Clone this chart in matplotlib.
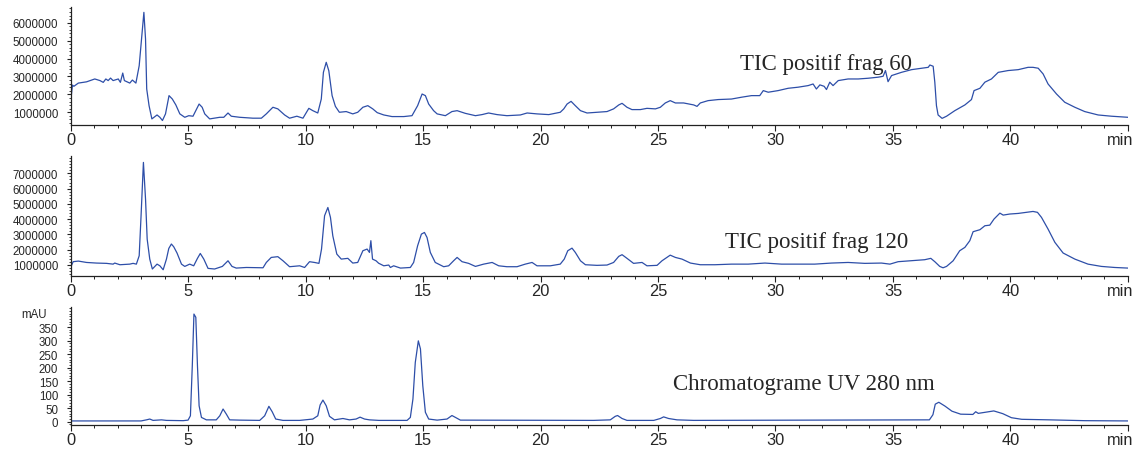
import matplotlib
matplotlib.use('Agg')
import matplotlib.pyplot as plt
import matplotlib.transforms as mtransforms
from matplotlib.ticker import MultipleLocator, FuncFormatter

plt.rcParams['font.family'] = ['Liberation Sans', 'DejaVu Sans']

# TIC positif frag 60 (time in min, intensity in millions of counts)
tic60_time = [0.0, 0.08, 0.14, 0.33, 0.68, 1.03, 1.25, 1.39, 1.50, 1.60, 1.70, 1.81, 2.03, 2.12, 2.22,
              2.29, 2.52, 2.63, 2.78, 2.92, 3.02, 3.12, 3.19, 3.24, 3.34, 3.46, 3.68, 3.80, 3.91, 4.04,
              4.19, 4.33, 4.48, 4.65, 4.86, 5.03, 5.21, 5.47, 5.60, 5.71, 5.92, 6.35, 6.52, 6.70, 6.84,
              7.20, 7.76, 8.12, 8.33, 8.61, 8.82, 9.11, 9.32, 9.63, 9.89, 10.14, 10.31, 10.52, 10.67,
              10.76, 10.88, 10.99, 11.13, 11.27, 11.44, 11.73, 12.01, 12.22, 12.44, 12.65, 12.86, 13.05,
              13.33, 13.68, 14.18, 14.53, 14.77, 14.96, 15.10, 15.24, 15.45, 15.60, 15.95, 16.23, 16.45,
              16.80, 17.23, 17.51, 17.79, 18.15, 18.57, 19.14, 19.43, 19.85, 20.35, 20.84, 20.99, 21.13,
              21.30, 21.48, 21.70, 21.98, 22.40, 22.83, 23.11, 23.33, 23.47, 23.68, 23.89, 24.25, 24.53,
              24.89, 25.10, 25.31, 25.52, 25.74, 26.09, 26.52, 26.66, 26.80, 27.13, 27.56, 28.13, 28.55,
              28.98, 29.33, 29.48, 29.69, 30.11, 30.54, 30.96, 31.39, 31.60, 31.74, 31.89, 32.07, 32.17,
              32.31, 32.45, 32.67, 33.09, 33.52, 33.94, 34.37, 34.58, 34.68, 34.79, 34.94, 35.36, 35.79,
              36.21, 36.50, 36.57, 36.71, 36.78, 36.85, 36.92, 37.09, 37.28, 37.63, 38.06, 38.34, 38.45,
              38.70, 38.91, 39.19, 39.48, 39.90, 40.33, 40.75, 40.96, 41.18, 41.39, 41.60, 41.96, 42.31,
              42.74, 43.16, 43.73, 44.30, 45.00]
tic60_mcounts = [1.56, 2.52, 2.45, 2.63, 2.70, 2.86, 2.77, 2.67, 2.86, 2.77, 2.91, 2.77, 2.86, 2.67, 3.19,
                 2.77, 2.63, 2.80, 2.63, 3.60, 5.09, 6.58, 5.09, 2.30, 1.37, 0.63, 0.85, 0.72, 0.54, 0.91,
                 1.93, 1.74, 1.41, 0.91, 0.72, 0.81, 0.78, 1.46, 1.28, 0.91, 0.63, 0.72, 0.72, 0.96, 0.78,
                 0.72, 0.67, 0.67, 0.91, 1.28, 1.19, 0.85, 0.67, 0.78, 0.67, 1.22, 1.09, 0.96, 1.74,
                 3.23, 3.79, 3.32, 1.93, 1.33, 1.00, 1.04, 0.91, 1.00, 1.28, 1.37, 1.19, 0.98,
                 0.85, 0.76, 0.76, 0.81, 1.37, 2.02, 1.93, 1.46, 1.09, 0.91, 0.81, 1.04, 1.09,
                 0.94, 0.81, 0.87, 0.96, 0.87, 0.81, 0.85, 0.96, 0.91, 0.87, 1.00, 1.19, 1.46,
                 1.61, 1.37, 1.09, 0.96, 1.00, 1.04, 1.19, 1.41, 1.50, 1.28, 1.15, 1.15, 1.22,
                 1.19, 1.28, 1.52, 1.65, 1.52, 1.52, 1.41, 1.33, 1.52, 1.65, 1.71, 1.74, 1.84,
                 1.93, 1.93, 2.21, 2.12, 2.21, 2.34, 2.40, 2.49, 2.58, 2.30, 2.53, 2.45, 2.27,
                 2.68, 2.49, 2.77, 2.86, 2.86, 2.90, 2.96, 3.01, 3.33, 2.71, 3.05, 3.23, 3.38,
                 3.46, 3.51, 3.64, 3.57, 2.68, 1.37, 0.85, 0.66, 0.78, 1.09, 1.41, 1.71, 2.21,
                 2.34, 2.68, 2.86, 3.23, 3.33, 3.38, 3.51, 3.51, 3.46, 3.14, 2.58, 2.02, 1.56,
                 1.28, 1.04, 0.85, 0.78, 0.72]

# TIC positif frag 120
tic120_time = [0.0, 0.11, 0.33, 0.68, 1.10, 1.53, 1.81, 1.88, 2.10, 2.52, 2.66, 2.80, 2.92, 3.00, 3.10,
               3.19, 3.26, 3.37, 3.48, 3.68, 3.80, 3.94, 4.08, 4.18, 4.29, 4.39, 4.53, 4.72, 4.86, 5.07,
               5.24, 5.40, 5.52, 5.67, 5.85, 6.13, 6.46, 6.70, 6.87, 7.05, 7.48, 8.19, 8.33, 8.54, 8.82,
               9.04, 9.32, 9.75, 9.96, 10.17, 10.38, 10.57, 10.68, 10.81, 10.95, 11.06, 11.16, 11.33,
               11.52, 11.80, 12.01, 12.22, 12.44, 12.62, 12.72, 12.78, 12.85, 13.00, 13.11, 13.33, 13.54,
               13.61, 13.75, 14.04, 14.46, 14.60, 14.77, 14.93, 15.06, 15.17, 15.31, 15.52, 15.88, 16.09,
               16.30, 16.45, 16.66, 16.94, 17.23, 17.58, 17.94, 18.22, 18.57, 19.00, 19.35, 19.64, 19.85,
               20.42, 20.84, 21.01, 21.16, 21.34, 21.48, 21.70, 21.91, 22.40, 22.83, 23.11, 23.33, 23.47,
               23.68, 23.96, 24.32, 24.53, 24.96, 25.17, 25.38, 25.52, 25.74, 26.02, 26.38, 26.80, 27.42,
               28.13, 28.84, 29.55, 30.26, 30.96, 31.67, 32.38, 33.09, 33.80, 34.51, 34.87, 35.22, 35.93,
               36.35, 36.61, 36.78, 36.99, 37.13, 37.28, 37.56, 37.84, 38.06, 38.27, 38.41, 38.70, 38.91,
               39.12, 39.30, 39.55, 39.69, 39.97, 40.33, 40.68, 40.96, 41.15, 41.32, 41.60, 41.89, 42.24,
               42.74, 43.30, 43.87, 44.44, 45.00]
tic120_mcounts = [0.82, 1.20, 1.24, 1.15, 1.11, 1.09, 1.04, 1.11, 1.00, 1.04, 1.09, 1.04, 1.59, 4.22, 7.72,
                  5.31, 2.68, 1.37, 0.72, 1.04, 0.93, 0.67, 1.37, 2.07, 2.36, 2.18, 1.77, 1.04, 0.89, 1.04,
                  0.93, 1.42, 1.74, 1.37, 0.76, 0.72, 0.89, 1.26, 0.89, 0.78, 0.82, 0.80, 1.15, 1.48, 1.53,
                  1.26, 0.87, 0.93, 0.82, 1.20, 1.15, 1.09, 2.03, 4.22, 4.76, 4.11, 2.90, 1.70,
                  1.37, 1.42, 1.11, 1.15, 1.92, 2.03, 1.81, 2.58, 1.37, 1.26, 1.10, 0.93, 0.98,
                  0.82, 0.93, 0.78, 0.82, 1.15, 2.25, 3.01, 3.12, 2.79, 1.81, 1.15, 0.87, 0.93,
                  1.26, 1.48, 1.20, 1.09, 0.89, 1.04, 1.15, 0.93, 0.87, 0.87, 1.04, 1.15, 0.93,
                  0.93, 1.04, 1.37, 1.92, 2.09, 1.81, 1.26, 1.00, 0.96, 0.98, 1.15, 1.55, 1.66,
                  1.42, 1.09, 1.15, 0.93, 0.96, 1.26, 1.48, 1.63, 1.48, 1.37, 1.11, 1.00, 1.00,
                  1.04, 1.04, 1.11, 1.04, 1.04, 1.04, 1.11, 1.15, 1.09, 1.11, 1.04, 1.20, 1.28,
                  1.33, 1.42, 1.20, 0.89, 0.80, 0.89, 1.26, 1.92, 2.14, 2.58, 3.17, 3.30, 3.56,
                  3.60, 4.00, 4.39, 4.26, 4.33, 4.37, 4.44, 4.50, 4.44, 4.11, 3.34, 2.47, 1.77,
                  1.37, 1.04, 0.89, 0.82, 0.78]

# UV 280 nm (mAU)
uv_time = [0.0, 3.00, 3.23, 3.37, 3.51, 3.87, 4.08, 4.79, 5.00, 5.10, 5.18, 5.25, 5.33, 5.40, 5.47, 5.57,
           5.78, 6.20, 6.35, 6.49, 6.63, 6.77, 7.20, 8.05, 8.26, 8.44, 8.58, 8.73, 9.04, 9.75, 10.31,
           10.52, 10.62, 10.74, 10.88, 11.02, 11.23, 11.59, 11.87, 12.15, 12.32, 12.51, 12.72, 13.12,
           14.32, 14.46, 14.57, 14.67, 14.80, 14.89, 14.99, 15.10, 15.24, 15.60, 16.02, 16.23, 16.38,
           16.59, 22.26, 22.97, 23.18, 23.28, 23.47, 23.68, 24.82, 25.10, 25.24, 25.45, 25.81, 26.52,
           36.55, 36.70, 36.80, 36.95, 37.21, 37.51, 37.88, 38.40, 38.52, 38.63, 39.00, 39.29, 39.67,
           40.04, 40.48, 41.67, 43.16, 45.00]
uv_mau = [3, 3, 7, 10, 5, 7, 5, 4, 6, 22, 207, 398, 386, 207, 59, 16,
          7, 7, 22, 47, 28, 7, 6, 5, 22, 57, 37, 10, 5, 5, 10,
          22, 62, 80, 59, 20, 7, 12, 7, 10, 17, 10, 7, 5,
          5, 16, 84, 219, 299, 269, 133, 35, 10, 6, 10, 23, 16,
          6, 5, 7, 20, 23, 12, 5, 5, 12, 18, 12, 7, 5,
          7, 26, 65, 72, 58, 39, 28, 27, 37, 31, 36, 40, 30,
          15, 9, 7, 4, 3]

line_color = '#2d4ea8'
text_color = '#262626'

fig = plt.figure(figsize=(11.42, 4.56), dpi=100)

ax1 = fig.add_axes([0.0618, 0.7237, 0.9259, 0.2588])
ax2 = fig.add_axes([0.0618, 0.3932, 0.9259, 0.2618])
ax3 = fig.add_axes([0.0618, 0.0658, 0.9259, 0.2581])

ax1.plot(tic60_time, [v * 1e6 for v in tic60_mcounts], color=line_color, lw=0.9)
ax2.plot(tic120_time, [v * 1e6 for v in tic120_mcounts], color=line_color, lw=0.9)
ax3.plot(uv_time, uv_mau, color=line_color, lw=0.9)


def setup_panel(ax, ylim, yticks, yminor):
    ax.set_xlim(0, 45)
    ax.set_ylim(*ylim)
    for s in ['top', 'right']:
        ax.spines[s].set_visible(False)
    for s in ['left', 'bottom']:
        ax.spines[s].set_color('#222222')
        ax.spines[s].set_linewidth(0.9)
    ax.set_xticks(range(0, 46, 5))
    ax.set_xticklabels([str(t) for t in range(0, 41, 5)] + ['min'])
    ax.xaxis.set_minor_locator(MultipleLocator(1))
    ax.set_yticks(yticks)
    ax.yaxis.set_minor_locator(MultipleLocator(yminor))
    ax.yaxis.set_major_formatter(FuncFormatter(lambda v, p: '%d' % v))
    ax.tick_params(axis='x', which='major', length=4.3, width=0.8, pad=1,
                   labelsize=11.8, colors='#222222', labelcolor=text_color)
    ax.tick_params(axis='x', which='minor', length=2.2, width=0.7, colors='#222222')
    ax.tick_params(axis='y', which='major', length=2.9, width=0.8, pad=6,
                   labelsize=8.3, colors='#222222', labelcolor=text_color)
    ax.tick_params(axis='y', which='minor', length=1.6, width=0.6, colors='#222222')
    # shift the "min" label a bit to the left, like the original
    lab = ax.get_xticklabels()[-1]
    lab.set_horizontalalignment('right')
    lab.set_transform(lab.get_transform() + mtransforms.ScaledTranslation(0.05, 0, fig.dpi_scale_trans))


setup_panel(ax1, (0.29e6, 6.88e6), [i * 1e6 for i in range(1, 7)], 2e5)
setup_panel(ax2, (0.28e6, 8.12e6), [i * 1e6 for i in range(1, 8)], 2e5)
setup_panel(ax3, (-12, 423), list(range(0, 351, 50)), 10)

serif = ['Liberation Serif', 'DejaVu Serif']
ax1.text(0.633, 0.475, 'TIC positif frag 60', transform=ax1.transAxes, family=serif,
         fontsize=16.5, color=text_color, va='baseline')
ax2.text(0.619, 0.24, 'TIC positif frag 120', transform=ax2.transAxes, family=serif,
         fontsize=16.5, color=text_color, va='baseline')
ax3.text(0.570, 0.306, 'Chromatograme UV 280 nm', transform=ax3.transAxes, family=serif,
         fontsize=16.5, color=text_color, va='baseline')
ax3.text(-0.0223, 0.943, 'mAU', transform=ax3.transAxes, fontsize=8.3,
         color=text_color, ha='right', va='center')

plt.savefig('out.png', dpi=100)
